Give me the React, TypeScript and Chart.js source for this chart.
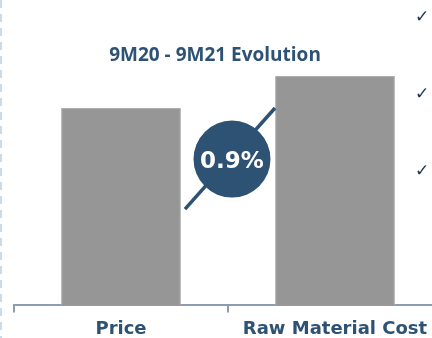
import React, { useEffect, useRef } from "react";
import { Chart, registerables } from "chart.js";

Chart.register(...registerables);

const categories = ["Price", "Raw Material Cost"];
const values = [86, 100];
const evolutionLabel = "0.9%";
const titleText = "9M20 - 9M21 Evolution";
const checkCount = 3;

const NAVY = "#2e5273";
const BAR_GRAY = "#969696";

const overlayPlugin = {
  id: "evolutionOverlay",
  afterDraw(chart: any) {
    const { ctx, scales } = chart;
    const x = scales.x;
    const y = scales.y;
    ctx.save();

    // dashed separator along the left edge
    ctx.strokeStyle = "#c9dcec";
    ctx.lineWidth = 2;
    ctx.setLineDash([8, 6]);
    ctx.beginPath();
    ctx.moveTo(1, 0);
    ctx.lineTo(1, chart.height);
    ctx.stroke();
    ctx.setLineDash([]);

    // title
    ctx.fillStyle = NAVY;
    ctx.font = "bold 19px 'Open Sans'";
    ctx.textAlign = "center";
    ctx.textBaseline = "middle";
    ctx.fillText(titleText, 215, 56);

    // check marks on the right
    ctx.fillStyle = "#1c3552";
    ctx.font = "bold 17px 'DejaVu Sans'";
    for (let i = 0; i < checkCount; i++) {
      ctx.fillText("\u2713", 422, 18 + i * 77);
    }

    // evolution connector: diagonal line + badge
    const p0 = x.getPixelForValue(0);
    const p1 = x.getPixelForValue(1);
    const mid = (p0 + p1) / 2 + 4;
    const yTop = y.getPixelForValue(values[0]);
    const yTop2 = y.getPixelForValue(values[1]);
    const cy = yTop + 51;

    ctx.strokeStyle = NAVY;
    ctx.lineWidth = 3.5;
    ctx.beginPath();
    ctx.moveTo(mid - 47, cy + 50);
    ctx.lineTo(p1 - 60, yTop2 + 32);
    ctx.stroke();

    ctx.fillStyle = NAVY;
    ctx.beginPath();
    ctx.arc(mid, cy, 38.5, 0, Math.PI * 2);
    ctx.fill();

    ctx.fillStyle = "#ffffff";
    ctx.font = "bold 23px 'DejaVu Sans'";
    ctx.fillText(evolutionLabel, mid, cy + 3);
    ctx.restore();
  },
};

export default function App() {
  const ref = useRef<HTMLCanvasElement>(null);

  useEffect(() => {
    if (!ref.current) return;
    const chart = new Chart(ref.current, {
      type: "bar",
      data: {
        labels: categories,
        datasets: [
          {
            data: values,
            backgroundColor: BAR_GRAY,
            borderColor: "#b0b0b0",
            borderWidth: { left: 1, right: 1, top: 1, bottom: 0 },
            barPercentage: 0.56,
            categoryPercentage: 1,
          },
        ],
      },
      options: {
        responsive: false,
        animation: false,
        devicePixelRatio: 1,
        layout: { padding: { left: 14, right: 18, top: 76, bottom: 0 } },
        plugins: {
          legend: { display: false },
          tooltip: { enabled: false },
          title: { display: false },
        },
        scales: {
          x: {
            offset: true,
            border: { display: true, color: "#8c9cb1", width: 2 },
            grid: {
              display: true,
              drawOnChartArea: false,
              drawTicks: true,
              tickLength: 7,
              color: "#8c9cb1",
              lineWidth: 2,
              offset: true,
            },
            ticks: {
              color: NAVY,
              font: { family: "'DejaVu Sans'", size: 18, weight: "bold" },
              padding: 6,
              maxRotation: 0,
            },
          },
          y: {
            display: false,
            min: 0,
            max: 100,
          },
        },
      },
      plugins: [overlayPlugin],
    });
    return () => chart.destroy();
  }, []);

  return (
    <div
      style={{
        position: "fixed",
        left: 0,
        top: 0,
        width: 432,
        height: 338,
        overflow: "hidden",
        background: "#ffffff",
      }}
    >
      <canvas ref={ref} width={460} height={346} style={{ display: "block" }} />
    </div>
  );
}
